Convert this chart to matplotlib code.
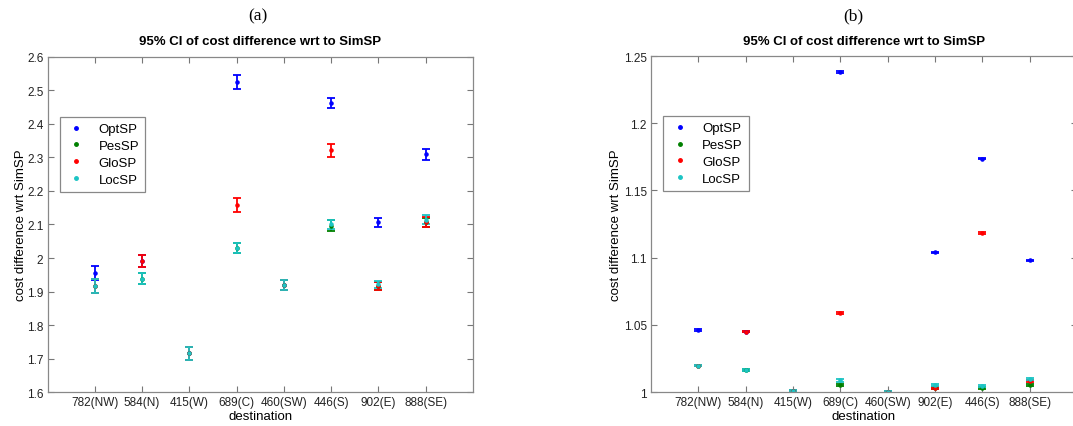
import matplotlib
matplotlib.use('Agg')
import matplotlib.pyplot as plt
from matplotlib.lines import Line2D

plt.rcParams['font.family'] = ['Liberation Sans', 'DejaVu Sans']

series = ['OptSP', 'PesSP', 'GloSP', 'LocSP']
colors = ['#0000ff', '#008000', '#ff0000', '#1cc4c4']

# panel (a)
dest_a = ['782(NW)', '584(N)', '415(W)', '689(C)', '460(SW)', '446(S)', '902(E)', '888(SE)']
opt_a = [1.954, 1.990, 1.715, 2.526, 1.918, 2.463, 2.107, 2.309]
pes_a = [1.916, 1.938, 1.715, 2.030, 1.918, 2.096, 1.916, 2.106]
glo_a = [1.916, 1.990, 1.715, 2.158, 1.918, 2.321, 1.916, 2.108]
loc_a = [1.916, 1.938, 1.715, 2.030, 1.918, 2.101, 1.921, 2.114]
opt_a_ci = [0.021, 0.018, 0.020, 0.021, 0.015, 0.016, 0.013, 0.015]
pes_a_ci = [0.020, 0.016, 0.020, 0.014, 0.015, 0.016, 0.013, 0.013]
glo_a_ci = [0.020, 0.018, 0.020, 0.022, 0.015, 0.019, 0.013, 0.014]
loc_a_ci = [0.020, 0.016, 0.020, 0.014, 0.015, 0.013, 0.011, 0.013]

# panel (b)
dest_b = ['782(NW)', '584(N)', '415(W)', '689(C)', '460(SW)', '902(E)', '446(S)', '888(SE)']
opt_b = [1.0462, 1.0450, 1.0005, 1.2381, 1.0002, 1.1039, 1.1737, 1.0979]
pes_b = [1.0196, 1.0164, 1.0005, 1.0052, 1.0002, 1.0027, 1.0027, 1.0052]
glo_b = [1.0196, 1.0450, 1.0005, 1.0591, 1.0002, 1.0027, 1.1185, 1.0082]
loc_b = [1.0196, 1.0164, 1.0005, 1.0087, 1.0002, 1.0052, 1.0045, 1.0099]
opt_b_ci = [0.0007, 0.0007, 0.0008, 0.0005, 0.0008, 0.0005, 0.0005, 0.0005]
pes_b_ci = [0.0006, 0.0006, 0.0008, 0.0009, 0.0008, 0.0008, 0.0008, 0.0008]
glo_b_ci = [0.0006, 0.0007, 0.0008, 0.0007, 0.0008, 0.0008, 0.0006, 0.0008]
loc_b_ci = [0.0006, 0.0005, 0.0008, 0.0009, 0.0008, 0.0008, 0.0008, 0.0008]

fig = plt.figure(figsize=(10.73, 4.27), dpi=100)
ax_a = fig.add_axes([0.0443, 0.0796, 0.3965, 0.7846])
ax_b = fig.add_axes([0.6067, 0.0796, 0.3970, 0.7869])


def draw(ax, dest, vals, cis, ylim, yticks, ylabels):
    x = list(range(1, len(dest) + 1))
    for v, ci, c in zip(vals, cis, colors):
        ax.errorbar(x, v, yerr=ci, fmt='.', color=c, markersize=4.5,
                    elinewidth=1.3, capsize=2.6, capthick=1.3)
    ax.set_xlim(0, 9)
    ax.set_ylim(*ylim)
    ax.set_xticks(x)
    ax.set_xticklabels(dest, fontsize=8.5, color='#222222')
    ax.set_yticks(yticks)
    ax.set_yticklabels(ylabels, fontsize=8.5, color='#222222')
    ax.tick_params(direction='in', top=True, right=True, length=4,
                   width=0.8, color='#777777', pad=3)
    for s in ax.spines.values():
        s.set_color('#888888')
        s.set_linewidth(0.9)
    ax.set_title('95% CI of cost difference wrt to SimSP', fontsize=9.5,
                 fontweight='bold', pad=9)
    ax.set_xlabel('destination', fontsize=9.5, labelpad=1)
    handles = [Line2D([], [], ls='none', marker='.', color=c, markersize=5)
               for c in colors]
    leg = ax.legend(handles, series, loc='upper left',
                    bbox_to_anchor=(0.029, 0.821), fontsize=9.5,
                    fancybox=False, framealpha=1, edgecolor='#888888',
                    handlelength=1.6, handletextpad=0.9, labelspacing=0.35,
                    borderpad=0.45, borderaxespad=0)
    leg.get_frame().set_linewidth(0.9)


draw(ax_a, dest_a, [opt_a, pes_a, glo_a, loc_a],
     [opt_a_ci, pes_a_ci, glo_a_ci, loc_a_ci], (1.6, 2.6),
     [1.6, 1.7, 1.8, 1.9, 2.0, 2.1, 2.2, 2.3, 2.4, 2.5, 2.6],
     ['1.6', '1.7', '1.8', '1.9', '2', '2.1', '2.2', '2.3', '2.4', '2.5', '2.6'])
ax_a.set_ylabel('cost difference wrt SimSP', fontsize=9.5, labelpad=0)

draw(ax_b, dest_b, [opt_b, pes_b, glo_b, loc_b],
     [opt_b_ci, pes_b_ci, glo_b_ci, loc_b_ci], (1.0, 1.25),
     [1.0, 1.05, 1.1, 1.15, 1.2, 1.25],
     ['1', '1.05', '1.1', '1.15', '1.2', '1.25'])
ax_b.set_ylabel('cost difference wrt SimSP', fontsize=9.5, labelpad=1.5)

fig.text(258 / 1073, 1 - 16 / 427, '(a)', family='Liberation Serif',
         fontsize=12.5, ha='center', va='center')
fig.text(853 / 1073, 1 - 16 / 427, '(b)', family='Liberation Serif',
         fontsize=12.5, ha='center', va='center')

fig.savefig('out.png', dpi=100)
